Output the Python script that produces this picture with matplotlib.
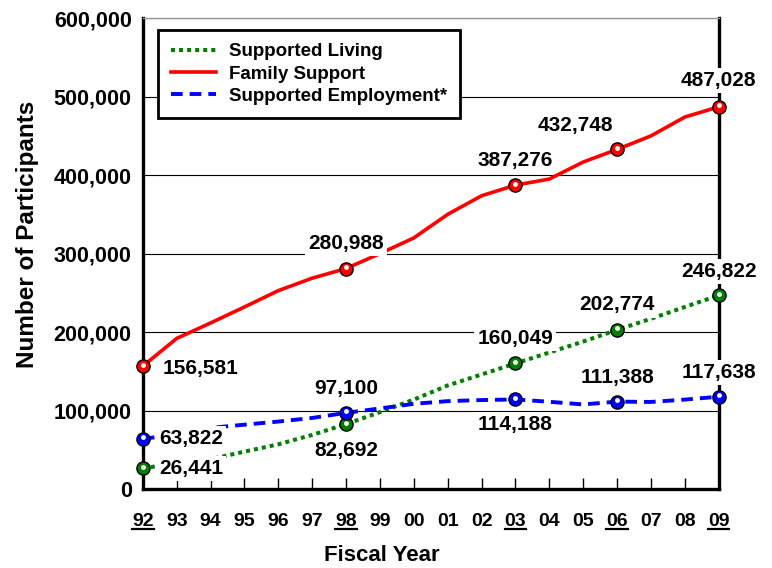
import matplotlib
matplotlib.use("Agg")
import matplotlib.pyplot as plt
from matplotlib.ticker import FuncFormatter
from matplotlib.lines import Line2D
from matplotlib.transforms import offset_copy

# data
years = list(range(1992, 2010))
year_labels = ["92", "93", "94", "95", "96", "97", "98", "99", "00",
               "01", "02", "03", "04", "05", "06", "07", "08", "09"]
underlined = ["92", "98", "03", "06", "09"]

supported_living = [26441, 33000, 38000, 47700, 57000, 69000, 82692, 98000, 114000,
                    132000, 146000, 160049, 174000, 188000, 202774, 217000, 232000, 246822]
family_support = [156581, 191900, 211600, 232000, 252800, 268700, 280988, 300000, 320000,
                  350000, 373700, 387276, 395000, 416700, 432748, 450000, 474000, 487028]
supported_employment = [63822, 70000, 78000, 82000, 86000, 90600, 97100, 102700, 108600,
                        112000, 113400, 114188, 111200, 107800, 111388, 111000, 114000, 117638]

marked_years = [1992, 1998, 2003, 2006, 2009]

#######################################
# matplotlib setup
#######################################
plt.rcParams['font.family'] = ['Liberation Sans', 'DejaVu Sans']
plt.rcParams['font.weight'] = 'bold'
plt.rcParams['axes.labelweight'] = 'bold'

red = "#ff0000"
green = "#008000"
blue = "#0000ff"


def pick(values, yrs):
    return [values[years.index(y)] for y in yrs]


def main():
    fig = plt.figure(figsize=(7.72, 5.68), dpi=100)
    ax = fig.add_axes([0.185, 0.139, 0.746, 0.829])

    ax.plot(years, supported_living, color=green, lw=2.9, ls=(0, (1, 1)),
            zorder=3, label="Supported Living")
    ax.plot(years, family_support, color=red, lw=2.6, ls="-",
            zorder=3, label="Family Support")
    ax.plot(years, supported_employment, color=blue, lw=2.8, ls=(0, (3, 1.8)),
            zorder=3, label="Supported Employment*")

    # circle markers with a small highlight
    hl = offset_copy(ax.transData, fig=fig, x=0, y=1.5, units='dots')
    for vals, col in [(supported_living, green), (family_support, red), (supported_employment, blue)]:
        mv = pick(vals, marked_years)
        ax.plot(marked_years, mv, ls="none", marker="o", ms=9.5, mfc=col, mec="black",
                mew=1.0, zorder=4, clip_on=False)
        ax.plot(marked_years, mv, ls="none", marker="o", ms=3.5, mfc="white", mec="none",
                zorder=4.5, clip_on=False, transform=hl)

    # data labels: (series, year, dx, dy, ha) with offsets in pixels
    label_spec = [
        (family_support, 1992, 20, -2, "left"),
        (family_support, 1998, 0, 25, "center"),
        (family_support, 2003, 0, 25, "center"),
        (family_support, 2006, -42, 24, "center"),
        (family_support, 2009, 0, 26, "center"),
        (supported_living, 1992, 16, 0, "left"),
        (supported_living, 1998, 0, -26, "center"),
        (supported_living, 2003, 0, 25, "center"),
        (supported_living, 2006, 0, 25, "center"),
        (supported_living, 2009, 0, 24, "center"),
        (supported_employment, 1992, 16, 0, "left"),
        (supported_employment, 1998, 0, 24, "center"),
        (supported_employment, 2003, 0, -25, "center"),
        (supported_employment, 2006, 0, 24, "center"),
        (supported_employment, 2009, 0, 24, "center"),
    ]
    for vals, yr, dx, dy, ha in label_spec:
        v = vals[years.index(yr)]
        ax.annotate("{:,}".format(v), (yr, v), xytext=(dx, dy), textcoords="offset pixels",
                    ha=ha, va="center", fontsize=15, fontweight="bold", zorder=5,
                    annotation_clip=False,
                    bbox=dict(boxstyle="square,pad=0.15", fc="white", ec="none"))

    ax.set_xlim(1992, 2009)
    ax.set_ylim(0, 600000)
    ax.set_xticks(years)
    ax.set_xticklabels(year_labels)
    ax.set_yticks(range(0, 600001, 100000))
    ax.yaxis.set_major_formatter(FuncFormatter(lambda v, p: "{:,.0f}".format(v)))

    ax.grid(axis="y", color="black", lw=0.8, zorder=0.5)
    ax.set_axisbelow(True)
    ax.tick_params(axis="x", direction="in", length=8, width=1, pad=17, labelsize=14)
    ax.tick_params(axis="y", length=0, pad=8, labelsize=15.5)
    ax.tick_params(axis="x", top=False)

    for s in ["left", "bottom", "right"]:
        ax.spines[s].set_linewidth(2.4)
        ax.spines[s].set_color("black")
    ax.spines["top"].set_linewidth(1.0)
    ax.spines["top"].set_color("#999999")

    ax.set_xlabel("Fiscal Year", fontsize=16)
    ax.set_ylabel("Number of Participants", fontsize=17.5)
    ax.xaxis.set_label_coords(0.415, -0.119)
    ax.yaxis.set_label_coords(-0.181, 0.541)

    leg = ax.legend(loc="upper left", bbox_to_anchor=(0.026, 0.975), borderaxespad=0,
                    fontsize=13.5, handlelength=2.4, handletextpad=0.7, labelspacing=0.28,
                    borderpad=0.7, fancybox=False, framealpha=1)
    leg.get_frame().set_edgecolor("black")
    leg.get_frame().set_linewidth(2.0)
    leg.set_zorder(6)

    # underline the marked years
    fig.canvas.draw()
    renderer = fig.canvas.get_renderer()
    inv = fig.transFigure.inverted()
    for lbl in ax.get_xticklabels():
        if lbl.get_text() in underlined:
            bb = lbl.get_window_extent(renderer)
            (x0, y0), (x1, _) = inv.transform([(bb.x0, bb.y0 + 1), (bb.x1, bb.y0 + 1)])
            fig.add_artist(Line2D([x0, x1], [y0, y0], transform=fig.transFigure,
                                  color="black", lw=1.6))

    fig.savefig("out.png", dpi=100)
    plt.close(fig)


if __name__ == "__main__":
    main()
